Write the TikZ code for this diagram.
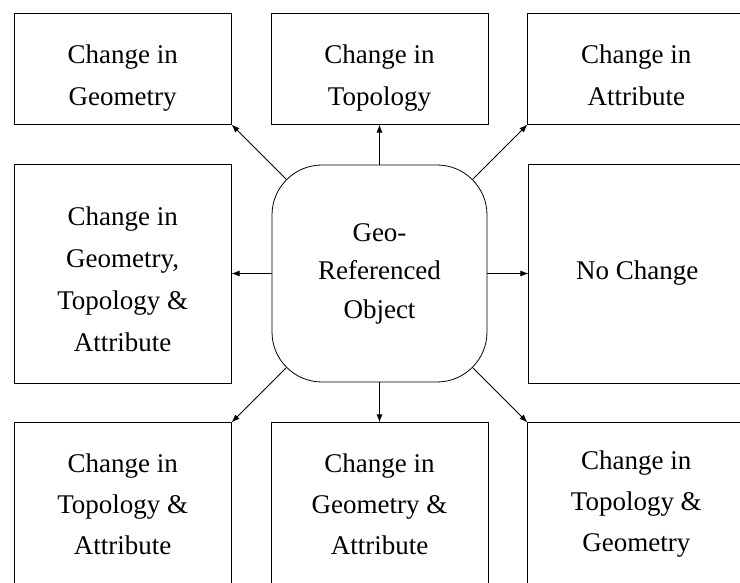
\documentclass[tikz,border=0pt]{standalone}
\usepackage{fontspec}
\setmainfont{Liberation Serif}
\usetikzlibrary{positioning}
\usetikzlibrary{arrows.meta}

\begin{document}
\begin{tikzpicture}[x=1pt,y=1pt,
		box/.style={draw,line width=0.8pt,minimum width=217pt,inner sep=0pt,align=center,font=\fontsize{27}{41}\selectfont},
		arr/.style={-{Latex[length=8pt,width=6pt]},line width=0.8pt}]
				\useasboundingbox (0,0) rectangle (740,582);
				\clip (0,0) rectangle (740,582);

				\node[box,minimum width=215pt,minimum height=217pt,rounded corners=50pt,font=\fontsize{27}{38.5}\selectfont](geo) at (379.5,308.5) {Geo-\\Referenced\\Object};
				\node[box,minimum height=219pt,text height=156pt,text depth=0pt,font=\fontsize{27}{42}\selectfont,left=40pt of geo](midleft) {Change in\\Geometry,\\Topology \&\\Attribute};
				\node[box,minimum height=219pt,right=41pt of geo](midright) {No Change};
				\node[box,minimum height=111pt,text height=73pt,text depth=0pt,font=\fontsize{27}{42}\selectfont,above=40pt of geo](topmid) {Change in\\Topology};
				\node[box,minimum height=111pt,text height=73pt,text depth=0pt,font=\fontsize{27}{42}\selectfont,left=39pt of topmid](topleft) {Change in\\Geometry};
				\node[box,minimum height=111pt,text height=73pt,text depth=0pt,font=\fontsize{27}{42}\selectfont,right=39pt of topmid](topright) {Change in\\Attribute};
				\node[box,minimum height=162pt,below=40pt of geo](botmid) {Change in\\Geometry \&\\Attribute};
				\node[box,minimum height=162pt,left=39pt of botmid](botleft) {Change in\\Topology \&\\Attribute};
				\node[box,minimum height=162pt,right=39pt of botmid](botright) {Change in\\Topology \&\\Geometry};

				\draw[arr] ([shift={(14.6pt,-14.6pt)}]geo.north west) -- (topleft.south east);
				\draw[arr] (geo.north) -- (topmid.south);
				\draw[arr] ([shift={(-14.6pt,-14.6pt)}]geo.north east) -- (topright.south west);
				\draw[arr] (geo.west) -- (midleft.east);
				\draw[arr] (geo.east) -- (midright.west);
				\draw[arr] ([shift={(14.6pt,14.6pt)}]geo.south west) -- (botleft.north east);
				\draw[arr] (geo.south) -- (botmid.north);
				\draw[arr] ([shift={(-14.6pt,14.6pt)}]geo.south east) -- (botright.north west);

\end{tikzpicture}
\end{document}
